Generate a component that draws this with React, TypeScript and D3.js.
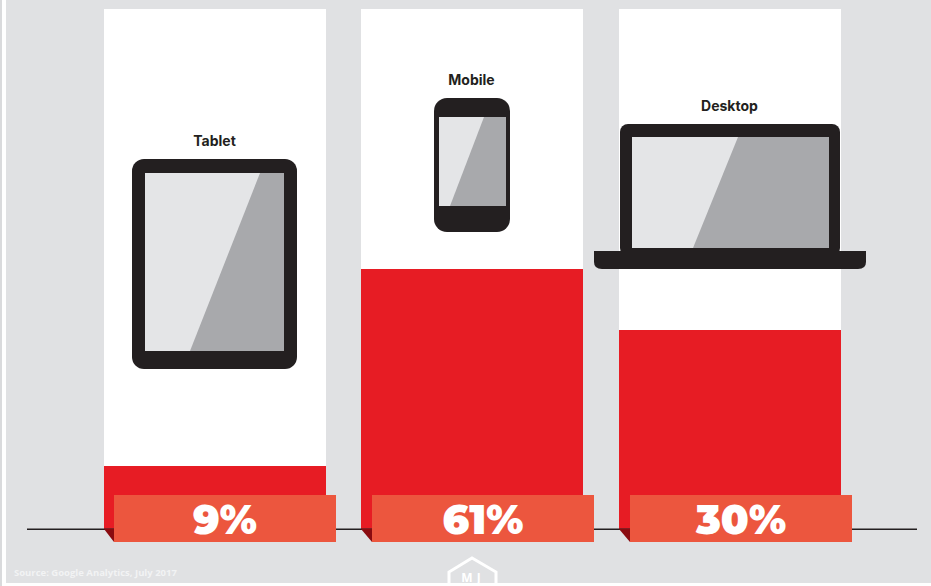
import React from "react";
import * as d3 from "d3";

const categories = ["Tablet", "Mobile", "Desktop"];
const shares = [9, 61, 30];
const source = "Source: Google Analytics, July 2017";

// Columns keep their own pixel stops: the share axis is piecewise, not proportional.
const shareStops = [0, 9, 30, 61];
const shareRange = [529, 466, 330, 269];

const W = 931;
const H = 586;
const BG = "#e0e1e3";
const RED = "#e71c24";
const TAG = "#ec563e";
const DARK_FOLD = "#8a0b10";
const INK = "#231f20";
const GLASS = "#e4e5e7";
const SHADE = "#a8a9ac";

const xBand = d3.scaleBand().domain(categories).range([104, 841]).paddingInner(35.5 / 257.5).paddingOuter(0);
const x = (c: string) => Math.floor(xBand(c)!);
const tagX = d3.scaleBand().domain(categories).range([114, 852]).paddingInner(36 / 258).paddingOuter(0);
const y = d3.scaleLinear().domain(shareStops).range(shareRange);
const BASE_Y = y(0);

function Glass({ x0, y0, x1, y1, top, bottom }: { x0: number; y0: number; x1: number; y1: number; top: number; bottom: number }) {
  const shade = d3.path();
  shade.moveTo(top, y0);
  shade.lineTo(x1, y0);
  shade.lineTo(x1, y1);
  shade.lineTo(bottom, y1);
  shade.closePath();
  return (
    <g>
      <rect x={x0} y={y0} width={x1 - x0} height={y1 - y0} fill={GLASS} />
      <path d={shade.toString()} fill={SHADE} />
    </g>
  );
}

function TabletIcon() {
  return (
    <g>
      <rect x={132} y={159} width={165} height={210} rx={12} fill={INK} />
      <Glass x0={145} y0={173} x1={284} y1={351} top={260} bottom={190} />
    </g>
  );
}

function MobileIcon() {
  return (
    <g>
      <rect x={434} y={98} width={76} height={134} rx={13} fill={INK} />
      <Glass x0={439} y0={117} x1={506} y1={206} top={484} bottom={450} />
    </g>
  );
}

function DesktopIcon() {
  const base = d3.path();
  base.moveTo(594, 251);
  base.lineTo(866, 251);
  base.lineTo(866, 262);
  base.quadraticCurveTo(866, 269, 858, 269);
  base.lineTo(602, 269);
  base.quadraticCurveTo(594, 269, 594, 262);
  base.closePath();
  return (
    <g>
      <rect x={620} y={124} width={220} height={132} rx={8} fill={INK} />
      <path d={base.toString()} fill={INK} />
      <Glass x0={632} y0={137} x1={829} y1={248} top={738} bottom={693} />
    </g>
  );
}

const icons: Record<string, { node: React.ReactNode; labelY: number }> = {
  Tablet: { node: <TabletIcon />, labelY: 146 },
  Mobile: { node: <MobileIcon />, labelY: 85 },
  Desktop: { node: <DesktopIcon />, labelY: 111 },
};

export default function App() {
  const band = xBand.bandwidth();
  const tagBand = tagX.bandwidth();
  return (
    <svg
      width={W}
      height={H}
      viewBox={`0 0 ${W} ${H}`}
      style={{ position: "absolute", left: 0, top: 0, display: "block" }}
    >
      <rect width={W} height={H} fill="#ffffff" />
      <rect x={0} y={0} width={2} height={H} fill="#d9dadc" />
      <rect x={6} y={0} width={W - 6} height={583} fill={BG} />

      {categories.map((c, i) => (
        <g key={c}>
          <rect x={x(c)} y={9} width={band} height={BASE_Y - 9} fill="#ffffff" />
          <rect x={x(c)} y={y(shares[i])} width={band} height={BASE_Y - y(shares[i])} fill={RED} />
        </g>
      ))}

      <line x1={27} x2={917} y1={529.2} y2={529.2} stroke={INK} strokeWidth={1.6} />

      {categories.map((c, i) => {
        const left = tagX(c)!;
        const fold = d3.path();
        fold.moveTo(x(c), BASE_Y);
        fold.lineTo(left, BASE_Y);
        fold.lineTo(left, 542);
        fold.closePath();
        return (
          <g key={c}>
            <path d={fold.toString()} fill={DARK_FOLD} />
            <rect x={left} y={495} width={tagBand} height={47} fill={TAG} />
            <text
              x={left + tagBand / 2}
              y={534}
              textAnchor="middle"
              fontFamily="Montserrat, Inter, 'Open Sans', sans-serif"
              fontWeight={900}
              fontSize={40.5}
              fill="#ffffff"
            >
              {shares[i]}%
            </text>
          </g>
        );
      })}

      {categories.map((c) => (
        <g key={c}>
          {icons[c].node}
          <text
            x={x(c) + band / 2 - 0.5}
            y={icons[c].labelY}
            textAnchor="middle"
            fontFamily="Inter, 'Open Sans', sans-serif"
            fontWeight={700}
            fontSize={14}
            fill={INK}
          >
            {c}
          </text>
        </g>
      ))}

      <text x={14} y={576} fontFamily="'Open Sans', Inter, sans-serif" fontWeight={700} fontSize={9.5} fill="#f2f3f4">
        {source}
      </text>

      <path d="M449,584 L449,572 L472,558 L496,572 L496,584" fill="none" stroke="#ffffff" strokeWidth={3} />
      <text
        x={473}
        y={582}
        textAnchor="middle"
        fontFamily="'Open Sans', sans-serif"
        fontWeight={700}
        fontSize={12}
        letterSpacing={4}
        fill="#ffffff"
      >
        MJ
      </text>
    </svg>
  );
}
